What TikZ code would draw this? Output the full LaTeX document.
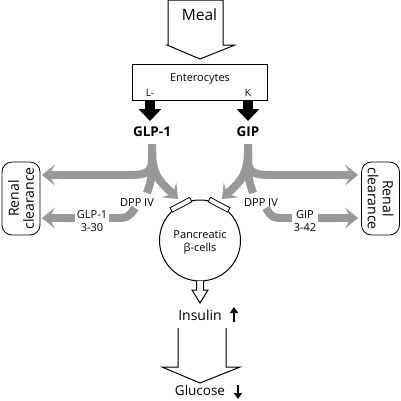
\documentclass[tikz,border=0pt]{standalone}
\usepackage{fontspec}
\setmainfont{Open Sans}
\usetikzlibrary{arrows.meta}
\definecolor{grayc}{RGB}{152,152,152}
\begin{document}
\begin{tikzpicture}[x=1pt,y=-1pt,
  outl/.style={draw=black,line width=1pt,fill=white,line join=miter},
  g/.style={draw=grayc,line width=8pt},
  ga/.style={g,-{Stealth[length=13pt,width=21pt,inset=6pt]}},
  blk/.style={line width=10pt,-{Triangle[length=12pt,width=22pt]}},
  lbl/.style={font=\fontsize{11}{13}\selectfont,inner sep=1pt,align=center},
  renal/.style={draw,line width=0.8pt,rounded corners=10pt,minimum width=73pt,minimum height=38pt,inner sep=0pt,align=center,font=\fontsize{14}{15}\selectfont},
  small/.style={line width=2.4pt,-{Triangle[length=6pt,width=8pt]}}
]
\useasboundingbox (0,0) rectangle (401,400);
% Meal arrow
\draw[outl] (168,0) -- (168,45) -- (167,45) -- (200,59) -- (235,45) -- (223,45) -- (223,0) -- cycle;
\node[font=\fontsize{15.5}{17}\selectfont] (meal) at (199.5,15) {Meal};
% Enterocytes box
\node[draw,line width=1pt,minimum width=135pt,minimum height=36pt,inner sep=0pt] (ent) at (199.5,82) {};
\node[font=\fontsize{11}{13}\selectfont] (entt) at (200,79) {Enterocytes};
\node[font=\fontsize{10}{12}\selectfont] (L) at (150,93) {L-};
\node[font=\fontsize{10}{12}\selectfont] (K) at (248,93) {K};
\node[font=\bfseries\fontsize{13.5}{15}\selectfont] (glp) at (152,132) {GLP-1};
\node[font=\bfseries\fontsize{13.5}{15}\selectfont] (gip) at (248,132) {GIP};
\coordinate (Lb) at (150,100); \coordinate (Lt) at (150,121);
\coordinate (Kb) at (248,100); \coordinate (Kt) at (248,121);
\draw[blk] (Lb) -- (Lt);
\draw[blk] (Kb) -- (Kt);
% renal boxes
\node[renal,rotate=90] (rl) at (21,198.5) {Renal\\clearance};
\node[renal,rotate=-90] (rr) at (380.5,198.5) {Renal\\clearance};
% circle
\node[circle,draw,line width=1pt,minimum size=81pt,inner sep=0pt] (cell) at (200,240.5) {};
\node[lbl] (panc) at (200,242) {Pancreatic\\β-cells};
\foreach \a in {118,62}{
  \draw[line width=0.8pt,fill=white,rotate around={90-\a:(200,240.5)}] (189,197.5) rectangle (211,202.5);
}
% grey connectors GLP-1
\coordinate (g0) at (152,144);
\coordinate (gL) at (42,175);
\coordinate (gC) at (178,199);
\coordinate (gD) at (147,193);
\coordinate (gS) at (135,208);
\coordinate (gL2) at (42,218);
\draw[g] (g0) -- (152,160) .. controls (152,175) and (142,175) .. (125,175) -- (60,175);
\draw[ga] (60,175) -- (gL);
\draw[ga] (152,150) .. controls (152,178) and (162,183) .. (gC);
\draw[g] (152,150) .. controls (152,178) .. (gD);
\draw[g] (gS) .. controls (128,218) .. (112,218) -- (60,218);
\draw[ga] (60,218) -- (gL2);
% grey connectors GIP
\coordinate (h0) at (248,144);
\coordinate (hR) at (358,175);
\coordinate (hC) at (222,199);
\coordinate (hD) at (253,193);
\coordinate (hS) at (266,208);
\coordinate (hR2) at (358,218);
\draw[g] (h0) -- (248,160) .. controls (248,175) and (258,175) .. (275,175) -- (340,175);
\draw[ga] (340,175) -- (hR);
\draw[ga] (248,150) .. controls (248,178) and (238,183) .. (hC);
\draw[g] (248,150) .. controls (248,178) .. (hD);
\draw[g] (hS) .. controls (272,218) .. (288,218) -- (340,218);
\draw[ga] (340,218) -- (hR2);
% labels
\node[lbl] (d1) at (137,203) {DPP IV};
\node[lbl] (d2) at (261,203) {DPP IV};
\node[lbl,fill=white,inner sep=2pt] (m1) at (92,221) {GLP-1\\3-30};
\node[lbl,fill=white,inner sep=2pt] (m2) at (305,221) {GIP\\3-42};
% small hollow arrow
\draw[outl] (196.5,281) -- (196.5,290) -- (192,290) -- (200,303) -- (208,290) -- (203.5,290) -- (203.5,281);
\node[font=\fontsize{14}{16}\selectfont] (ins) at (200,315) {Insulin};
\coordinate (ua) at (234,322); \coordinate (ub) at (234,307);
\draw[small] (ua) -- (ub);
% big hollow arrow
\draw[line width=1pt] (178,328) -- (178,367) -- (162,367) -- (200,383) -- (240,367) -- (226,367) -- (226,328);
\node[font=\fontsize{13.5}{15}\selectfont,inner sep=1pt] (glu) at (200,390.5) {Glucose};
\coordinate (da) at (238,385); \coordinate (db) at (238,399);
\draw[small] (da) -- (db);
\end{tikzpicture}
\end{document}
